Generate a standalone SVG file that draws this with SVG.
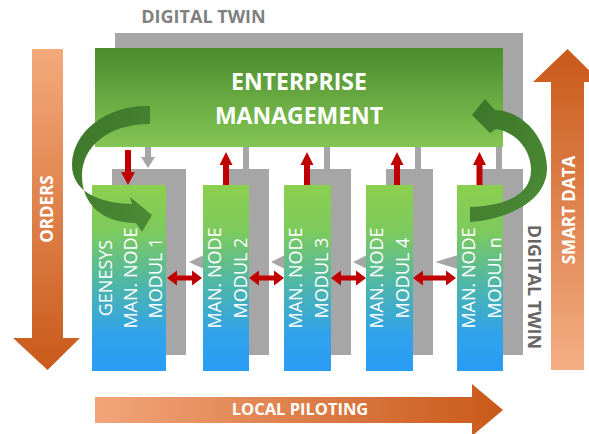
<svg xmlns="http://www.w3.org/2000/svg" width="589" height="434" viewBox="0 0 589 434">
<defs>
<linearGradient id="gOrdDown" x1="0" y1="0" x2="0" y2="1"><stop offset="0" stop-color="#f4aa7c"/><stop offset="1" stop-color="#c9591a"/></linearGradient>
<linearGradient id="gOrdUp" x1="0" y1="1" x2="0" y2="0"><stop offset="0" stop-color="#f4ae84"/><stop offset="1" stop-color="#c9591a"/></linearGradient>
<linearGradient id="gOrdRight" x1="0" y1="0" x2="1" y2="0"><stop offset="0" stop-color="#f2a57a"/><stop offset="1" stop-color="#c9591a"/></linearGradient>
<linearGradient id="gEnt" x1="0" y1="0" x2="0" y2="1"><stop offset="0" stop-color="#4b8c2d"/><stop offset="1" stop-color="#84c555"/></linearGradient>
<linearGradient id="gMod" x1="0" y1="0" x2="0" y2="1"><stop offset="0" stop-color="#8ccf4f"/><stop offset="0.25" stop-color="#7dca5d"/><stop offset="0.55" stop-color="#4cb5ad"/><stop offset="0.8" stop-color="#31a2ea"/><stop offset="1" stop-color="#2a9df5"/></linearGradient>
<linearGradient id="gCurve" x1="0" y1="0" x2="1" y2="1"><stop offset="0" stop-color="#3c7529"/><stop offset="1" stop-color="#4d8c36"/></linearGradient>
</defs>
<style>
.gray{fill:#a6a6a6}
.red{fill:#c00000}
.front{fill:url(#gMod)}
.mtxt{font-family:"Open Sans","Liberation Sans",sans-serif;font-size:18px;fill:#ffffff;text-anchor:middle}
.btxt{font-family:"Open Sans","Liberation Sans",sans-serif;font-weight:bold;fill:#ffffff;text-anchor:middle}
.dt{font-family:"Open Sans","Liberation Sans",sans-serif;font-weight:bold;font-size:18px;text-anchor:middle}
.curve{fill:url(#gCurve)}
</style>

<g id="orders">
<polygon points="32,49 63,49 63,338 80,338 47.5,370 13,338 32,338" fill="url(#gOrdDown)"/>
<text class="btxt" font-size="17" transform="translate(53,209) rotate(-90)">ORDERS</text>
</g>
<g id="smart-data">
<polygon points="551,370 584,370 584,82 601,82 567.5,49 533,82 551,82" fill="url(#gOrdUp)"/>
<text class="btxt" font-size="17" transform="translate(575,210) rotate(-90)">SMART DATA</text>
</g>
<g id="local-piloting">
<polygon points="95,397 472,397 472,384 503,410 472,436 472,423 95,423" fill="url(#gOrdRight)"/>
<text class="btxt" font-size="16.5" x="300" y="415">LOCAL PILOTING</text>
</g>

<g id="digital-twin">
<rect class="gray" x="115" y="33" width="408" height="98"/>
<text class="dt" x="203.5" y="23" fill="#808080">DIGITAL TWIN</text>
<text class="dt" fill="#666666" transform="translate(528,287) rotate(90)">DIGITAL TWIN</text>
</g>

<g id="connectors-gray">
<rect class="gray" x="145" y="131" width="6" height="27"/>
<polygon class="gray" points="141,157 155,157 148,168"/>
<rect class="gray" x="243" y="131" width="6" height="40"/>
<rect class="gray" x="324" y="131" width="6" height="40"/>
<rect class="gray" x="415" y="131" width="6" height="40"/>
<rect class="gray" x="496" y="131" width="6" height="40"/>
</g>

<g id="enterprise-management">
<rect x="95" y="48" width="408" height="99" fill="url(#gEnt)"/>
<text class="btxt" font-size="23" x="299" y="90">ENTERPRISE</text>
<text class="btxt" font-size="23" x="299" y="124">MANAGEMENT</text>
</g>

<g id="module-backs">
<rect class="gray" x="112" y="169" width="74" height="186"/>
<rect class="gray" x="223" y="169" width="46" height="186"/>
<rect class="gray" x="304" y="169" width="47" height="186"/>
<rect class="gray" x="386" y="169" width="47" height="186"/>
<rect class="gray" x="477" y="169" width="46" height="186"/>
</g>

<g id="connectors-twin">
<polygon class="gray" points="189,262 204,255 204,269"/>
<polygon class="gray" points="271,262 285,255 285,269"/>
<polygon class="gray" points="353,262 367,255 367,269"/>
<polygon class="gray" points="435,262 458,255 458,269"/>
</g>

<g id="module-1">
<rect class="front" x="92" y="185" width="74" height="186"/>
<text class="mtxt" transform="translate(112,278) rotate(-90)">GENESYS</text>
<text class="mtxt" transform="translate(137,278) rotate(-90)">MAN. NODE</text>
<text class="mtxt" transform="translate(162,278) rotate(-90)">MODUL 1</text>
</g>
<g id="module-2">
<rect class="front" x="203" y="185" width="46" height="186"/>
<text class="mtxt" transform="translate(221,278) rotate(-90)">MAN. NODE</text>
<text class="mtxt" transform="translate(247,278) rotate(-90)">MODUL 2</text>
</g>
<g id="module-3">
<rect class="front" x="284" y="185" width="47" height="186"/>
<text class="mtxt" transform="translate(302,278) rotate(-90)">MAN. NODE</text>
<text class="mtxt" transform="translate(328,278) rotate(-90)">MODUL 3</text>
</g>
<g id="module-4">
<rect class="front" x="366" y="185" width="47" height="186"/>
<text class="mtxt" transform="translate(383,278) rotate(-90)">MAN. NODE</text>
<text class="mtxt" transform="translate(409,278) rotate(-90)">MODUL 4</text>
</g>
<g id="module-n">
<rect class="front" x="457" y="185" width="46" height="186"/>
<text class="mtxt" transform="translate(475,278) rotate(-90)">MAN. NODE</text>
<text class="mtxt" transform="translate(501,278) rotate(-90)">MODUL n</text>
</g>

<g id="connectors-red">
<rect class="red" x="125" y="150" width="6" height="23"/>
<polygon class="red" points="121,172 135,172 128,185"/>
<polygon class="red" points="223,185 229,185 229,165 232.5,165 226,152 219.5,165 223,165"/>
<polygon class="red" points="304,185 310,185 310,165 313.5,165 307,152 300.5,165 304,165"/>
<polygon class="red" points="394,185 400,185 400,165 403.5,165 397,152 390.5,165 394,165"/>
<polygon class="red" points="476.5,185 482.5,185 482.5,165 486,165 479.5,152 473,165 476.5,165"/>
<polygon class="red" points="167,278 177,270.5 177,275.5 192,275.5 192,270.5 202,278 192,285.5 192,280.5 177,280.5 177,285.5"/>
<polygon class="red" points="249,278 259,270.5 259,275.5 274,275.5 274,270.5 284,278 274,285.5 274,280.5 259,280.5 259,285.5"/>
<polygon class="red" points="331,278 341,270.5 341,275.5 356,275.5 356,270.5 366,278 356,285.5 356,280.5 341,280.5 341,285.5"/>
<polygon class="red" points="413,278 423,270.5 423,275.5 446,275.5 446,270.5 456,278 446,285.5 446,280.5 423,280.5 423,285.5"/>
</g>

<g id="connectors-curved">
<path class="curve" d="M150,106 C110,104 72,130 72,165 C72,190 96,203 132,204 L130,197 L152,215 L142,232 L136,223 C101,223 82,203 82,176 C82,145 110,124 150,124 Z"/>
<path class="curve" d="M470,222 C510,219 548,200 547,167 C546,135 520,110 495,110 L485,99 L472,115 L490,133 L496,129 C516,132 531,150 531,170 C531,195 505,206 470,207 Z"/>
</g>
</svg>
